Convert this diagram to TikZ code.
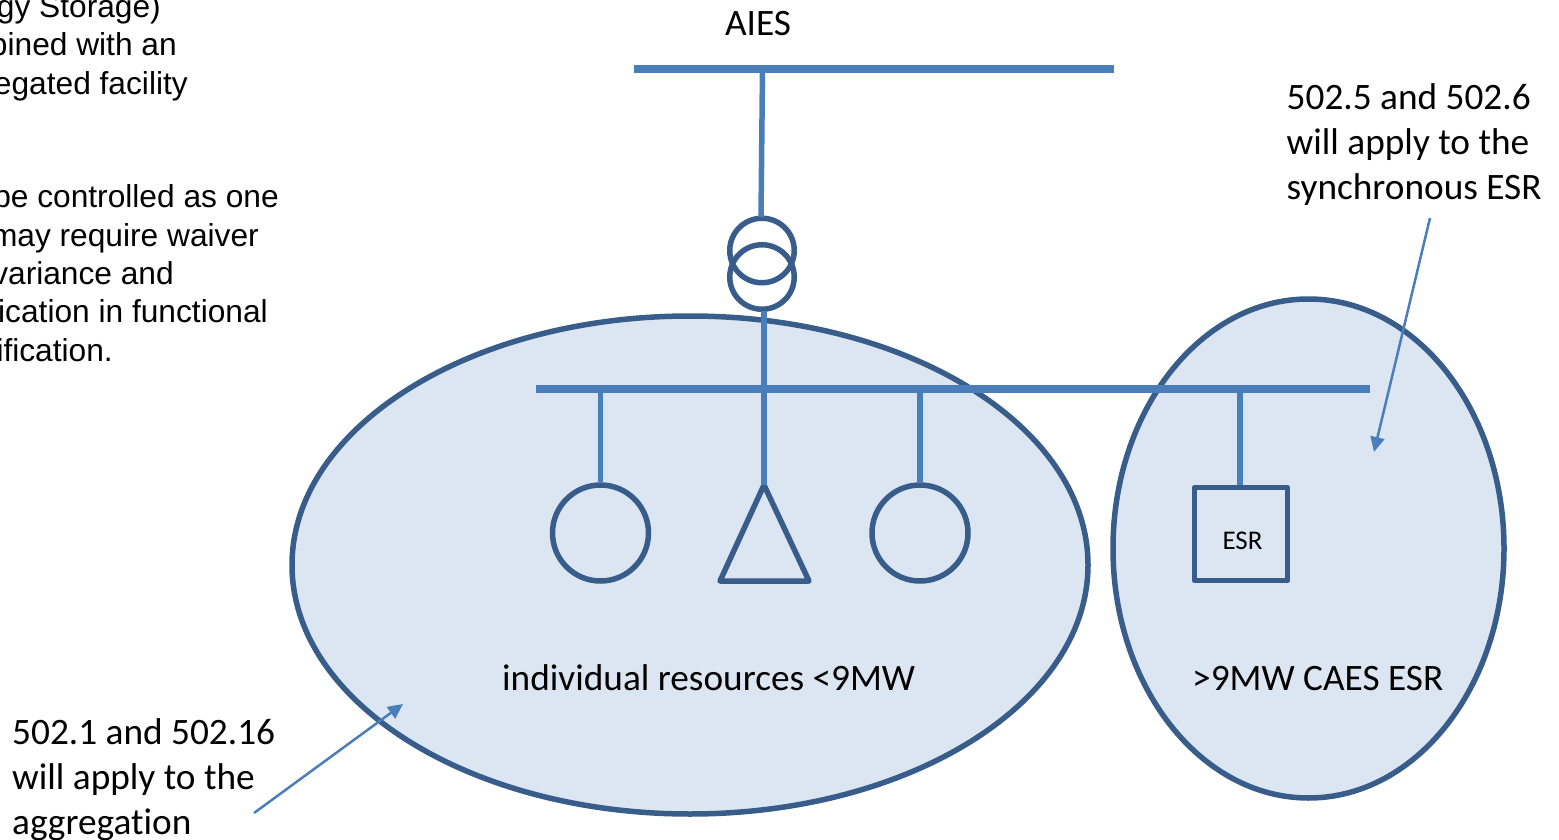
\documentclass[tikz,border=0pt]{standalone}
\usepackage{fontspec}
\setmainfont{Carlito}[Ligatures=NoCommon]
\newfontfamily\arialfont{Liberation Sans}
\usetikzlibrary{shapes.geometric,arrows.meta}
\definecolor{edgeblue}{HTML}{385D8A}
\definecolor{lineblue}{HTML}{4A7EBB}
\definecolor{fillblue}{HTML}{DCE6F2}
\tikzset{
  zone/.style={ellipse,draw=edgeblue,fill=fillblue,line width=5.5pt,inner sep=0pt},
  sym/.style={circle,draw=edgeblue,line width=5.5pt,inner sep=0pt,minimum size=#1},
  bus/.style={fill=lineblue,inner sep=0pt,minimum height=8pt},
  feeder/.style={draw=lineblue,line width=5.5pt},
  callout/.style={draw=lineblue,line width=2.5pt,-{Triangle[length=15pt,width=14pt]}},
  label/.style={font=\fontsize{37.3}{45}\selectfont,inner sep=0pt,anchor=base west,text=black},
  note/.style={font=\arialfont\fontsize{31.7}{38.5}\selectfont,inner sep=0pt,anchor=base east,text=black}
}
\begin{document}
\begin{tikzpicture}[x=1pt,y=-1pt]
\useasboundingbox (0,0) rectangle (1559,840);
\clip (0,0) rectangle (1559,840);
\node[note] (n1) at (161,18) {gy Storage)};
\node[note] (n2) at (177,56) {bined with an};
\node[note] (n3) at (188,95) {egated facility};
\node[note] (n4) at (279,207.5) {be controlled as one};
\node[note] (n5) at (259,246) {may require waiver};
\node[note] (n6) at (174,284.5) {variance and};
\node[note] (n7) at (268,322.5) {ication in functional};
\node[note] (n8) at (113,361.5) {ification.};
\node[zone,minimum width=796pt,minimum height=498pt] (big) at (690,565) {};
\node[zone,minimum width=391pt,minimum height=499pt] (small) at (1308.5,548.5) {};
\node[bus,minimum width=480pt] (top) at (874,69) {};
\node[sym=64.5pt] (t1) at (762,250.5) {};
\node[sym=64.5pt] (t2) at (762,277) {};
\node[sym=96pt] (g1) at (600.5,533) {};
\node[sym=96pt] (g2) at (920,533) {};
\node[draw=edgeblue,line width=5.5pt,line join=round,minimum size=93pt,inner sep=0pt] (esr) at (1241,534) {};
\node[inner sep=0pt,anchor=base,font=\fontsize{27}{32}\selectfont,text=black] (esrt) at (1242.5,549) {ESR};
\coordinate (tri) at (764,485);
\draw[draw=edgeblue,line width=5.5pt,line join=round] (tri) -- (720,581) -- (809,581) -- cycle;
\coordinate (topdrop) at (762.5,69);
\coordinate (middrop1) at (600.5,389);
\coordinate (middrop3) at (920,389);
\coordinate (middrop4) at (1240,389);
\coordinate (t2b) at (764,311);
\coordinate (esrtop) at (1240,485);
\draw[feeder] (topdrop) -- (761,217);
\draw[feeder] (t2b) -- (tri);
\draw[feeder] (middrop1) -- (g1.north);
\draw[feeder] (middrop3) -- (g2.north);
\draw[feeder] (middrop4) -- (esrtop);
\node[bus,minimum width=834pt] (mid) at (953,389) {};
\node[inner sep=0pt,anchor=base,font=\fontsize{37.3}{45}\selectfont,text=black] (aies) at (758,35.5) {AIES};
\node[label] (a1) at (1286.5,109.5) {502.5 and 502.6};
\node[label] (a2) at (1286.5,154.5) {will apply to the};
\node[label] (a3) at (1286.5,199.5) {synchronous ESR};
\node[label] (b1) at (12,744) {502.1 and 502.16};
\node[label] (b2) at (12,789) {will apply to the};
\node[label] (b3) at (12,834) {aggregation};
\node[label] (c1) at (502,690) {individual resources <9MW};
\node[label] (c2) at (1192,690) {>9MW CAES ESR};
\coordinate (s1) at (1430,218);
\coordinate (e1) at (1374,452);
\coordinate (s2) at (254,813);
\coordinate (e2) at (403,704);
\draw[callout] (s1) -- (e1);
\draw[callout] (s2) -- (e2);
\end{tikzpicture}
\end{document}
